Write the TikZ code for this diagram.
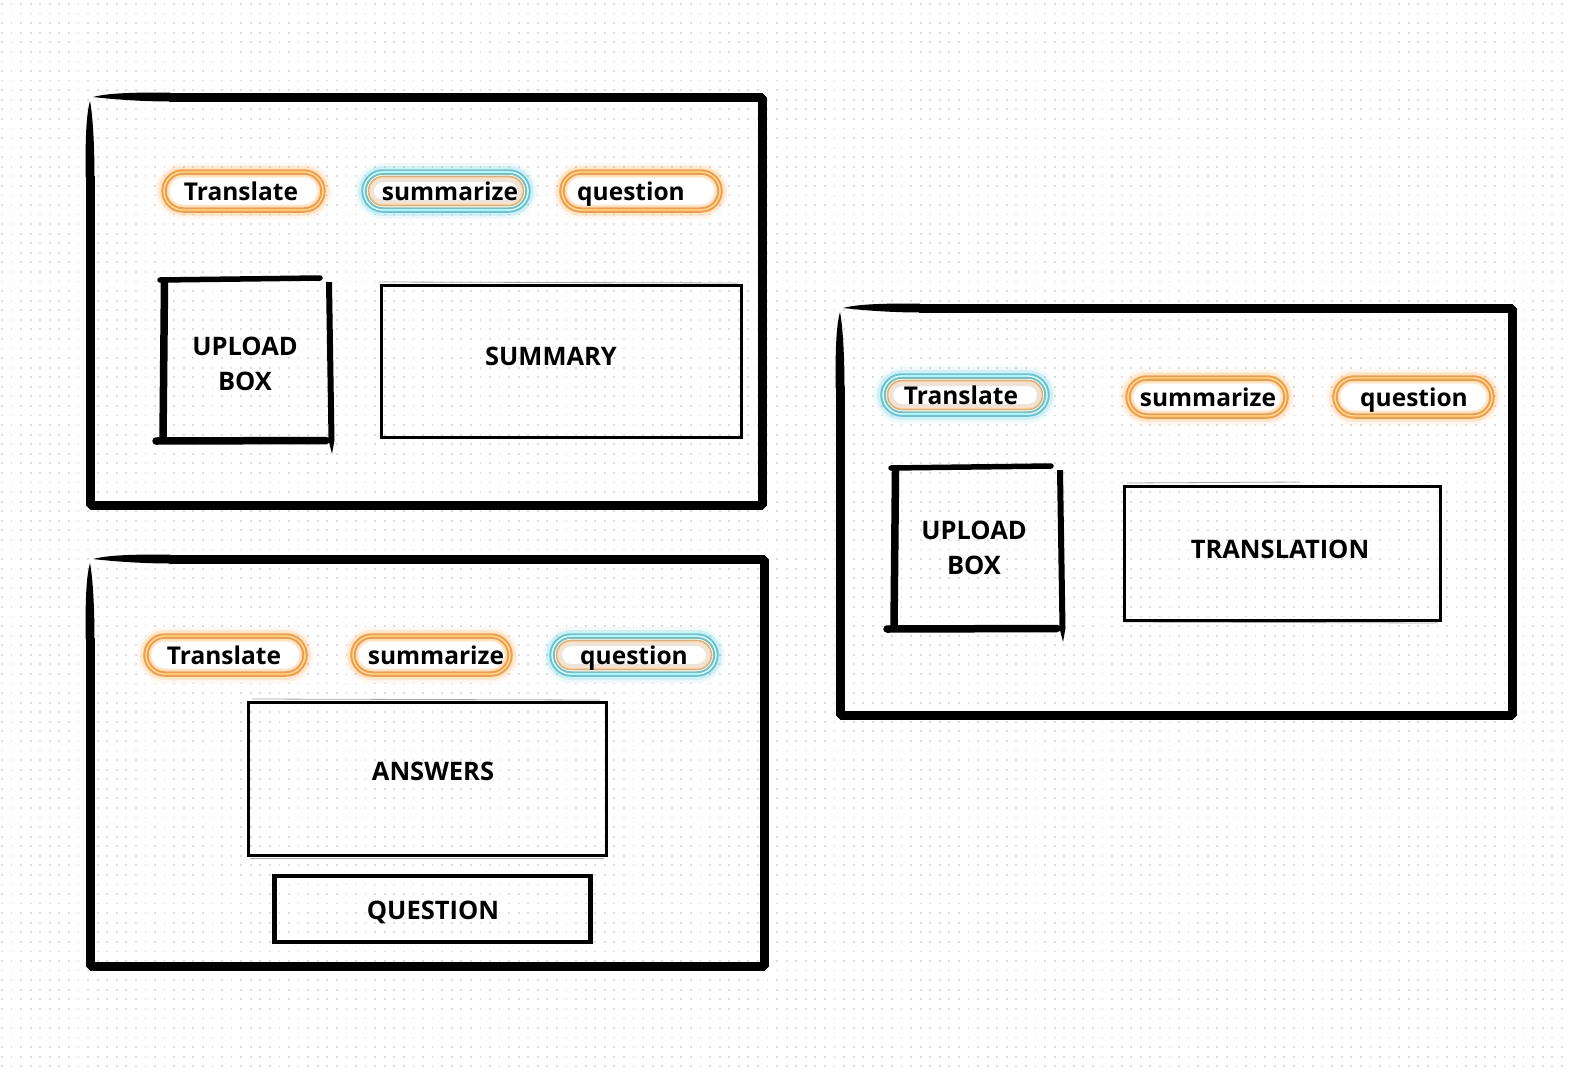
\documentclass[tikz,border=0pt]{standalone}
\usepackage{fontspec}
\setmainfont{Open Sans}
\definecolor{org}{HTML}{FF9A38}
\definecolor{orgpale}{HTML}{FFE6B8}
\definecolor{cyn}{HTML}{5CC9D6}
\definecolor{dotc}{HTML}{DCDCDC}
\definecolor{brn}{HTML}{C89C74}
\tikzset{
  lbl/.style={font=\fontsize{25.5}{35}\selectfont\bfseries, inner sep=0pt, text=black},
  capstext/.style={lbl, anchor=base},
  pilltext/.style={font=\fontsize{24.5}{30}\selectfont\bfseries, inner sep=0pt, text=black, anchor=base},
  frameline/.style={line width=9pt, line join=bevel, black},
  thinbox/.style={line width=3pt, black},
  sketch/.style={line width=0.8pt, black!35},
  brush/.style={line width=7.5pt, line cap=round, black},
}
% orange (unselected) pill: name, x, y, width, text x, text
\newcommand{\opill}[6]{%
  \begin{scope}[rounded corners=19pt]
    \draw[org, line width=18pt, opacity=0.07] ({#2-#4/2},{#3-19}) rectangle ({#2+#4/2},{#3+19});
    \draw[org, line width=12pt, opacity=0.16] ({#2-#4/2},{#3-19}) rectangle ({#2+#4/2},{#3+19});
    \fill[white] ({#2-#4/2},{#3-19}) rectangle ({#2+#4/2},{#3+19});
    \draw[org, line width=5.5pt] ({#2-#4/2},{#3-19}) rectangle ({#2+#4/2},{#3+19});
    \draw[orgpale, line width=1.3pt] ({#2-#4/2},{#3-19}) rectangle ({#2+#4/2},{#3+19});
    \draw[org, line width=3pt, opacity=0.25, rounded corners=15pt] ({#2-#4/2+4},{#3-15}) rectangle ({#2+#4/2-4},{#3+15});
  \end{scope}
  \node[pilltext] (#1) at (#5,{#3+9}) {#6};
}
% cyan (selected) pill
\newcommand{\cpill}[6]{%
  \begin{scope}[rounded corners=19pt]
    \draw[cyn, line width=18pt, opacity=0.09] ({#2-#4/2},{#3-19}) rectangle ({#2+#4/2},{#3+19});
    \draw[cyn, line width=12pt, opacity=0.2] ({#2-#4/2},{#3-19}) rectangle ({#2+#4/2},{#3+19});
    \fill[white] ({#2-#4/2},{#3-19}) rectangle ({#2+#4/2},{#3+19});
    \draw[cyn, line width=5.5pt] ({#2-#4/2},{#3-19}) rectangle ({#2+#4/2},{#3+19});
    \draw[white, line width=1.3pt] ({#2-#4/2},{#3-19}) rectangle ({#2+#4/2},{#3+19});
    \draw[brn, line width=6pt, opacity=0.28, rounded corners=12pt] ({#2-#4/2+7},{#3-12}) rectangle ({#2+#4/2-7},{#3+12});
    \draw[org, line width=1.6pt, opacity=0.8, rounded corners=14.5pt] ({#2-#4/2+4.5},{#3-14.5}) rectangle ({#2+#4/2-4.5},{#3+14.5});
  \end{scope}
  \node[pilltext] (#1) at (#5,{#3+9}) {#6};
}
% hand-drawn frame: x1 y1 x2 y2
\newcommand{\brushframe}[4]{%
  \fill[black] ({#1+3},{#2}) .. controls ({#1+20},{#2-4.5}) and ({#1+50},{#2-4.5}) .. ({#1+80},{#2-4.5})
     -- ({#1+80},{#2+4.5}) .. controls ({#1+50},{#2+4.5}) and ({#1+20},{#2+2}) .. ({#1+3},{#2}) -- cycle;
  \fill[black] ({#1},{#2+4}) .. controls ({#1-4.5},{#2+20}) and ({#1-4.5},{#2+50}) .. ({#1-4.5},{#2+80})
     -- ({#1+4.5},{#2+80}) .. controls ({#1+4.5},{#2+50}) and ({#1+3},{#2+20}) .. ({#1},{#2+4}) -- cycle;
  \draw[frameline] ({#1+79},{#2}) -- ({#3},{#2}) -- ({#3},{#4}) -- ({#1},{#4}) -- ({#1},{#2+79});
}
% hand-drawn upload box
\newcommand{\uploadbrush}{%
  \draw[brush, line width=5.5pt] (160,280) -- (320,278);
  \draw[brush] (164.5,283) -- (163,439);
  \draw[brush] (156,441) -- (326,440.5);
  \fill[black] (326,282) -- (332,282) -- (334.5,440) -- (332,454) -- (328.5,440) -- cycle;
}
\begin{document}
\begin{tikzpicture}[x=1pt,y=-1pt]
\useasboundingbox (0,0) rectangle (1569,1068);
\fill[white] (0,0) rectangle (1569,1068);
% dot grid
\foreach \r in {0,...,111}
  \draw[dotc, line width=1.8pt, dash pattern=on 1.8pt off 7.77pt] (1,{4+\r*9.57}) -- (1569,{4+\r*9.57});

% ---------- frame 1 (summary) ----------
\brushframe{90}{97}{762}{505}
\opill{f1t}{243.5}{191}{159}{241}{Translate}
\cpill{f1s}{446}{191}{164}{450}{summarize}
\opill{f1q}{641}{191}{158}{631}{question}
\uploadbrush
\node[lbl, align=center] (f1up) at (245,364) {UPLOAD\\BOX};
\draw[sketch] (379,282) -- (738,283);
\draw[thinbox] (381,285) rectangle (741,437);
\node[capstext] (f1sum) at (551,365) {SUMMARY};

% ---------- frame 3 (translation) ----------
\brushframe{840}{308}{1512}{715}
\cpill{f3t}{965}{395}{164}{961}{Translate}
\opill{f3s}{1207}{397}{158}{1208}{summarize}
\opill{f3q}{1413.5}{397}{157}{1414}{question}
\begin{scope}[shift={(731,188)}]
  \uploadbrush
\end{scope}
\node[lbl, align=center] (f3up) at (974,548) {UPLOAD\\BOX};
\draw[sketch] (1127,483) -- (1300,482);
\draw[sketch] (1124,622) -- (1438,623);
\draw[thinbox] (1124,486) rectangle (1440,620);
\node[capstext] (f3tr) at (1280,558) {TRANSLATION};

% ---------- frame 2 (question) ----------
\brushframe{90}{559}{764}{966}
\opill{f2t}{225.5}{655}{159}{224}{Translate}
\opill{f2s}{431.5}{655}{157}{436}{summarize}
\cpill{f2q}{634}{655}{164}{634}{question}
\draw[sketch] (252,699) -- (600,700);
\draw[sketch] (250,858) -- (604,858);
\draw[thinbox] (248,702) rectangle (606,855);
\node[capstext] (f2ans) at (433,780) {ANSWERS};
\draw[black, line width=4.5pt] (274.5,876) rectangle (590.5,942);
\node[capstext] (f2qbox) at (433,919) {QUESTION};
\end{tikzpicture}
\end{document}
